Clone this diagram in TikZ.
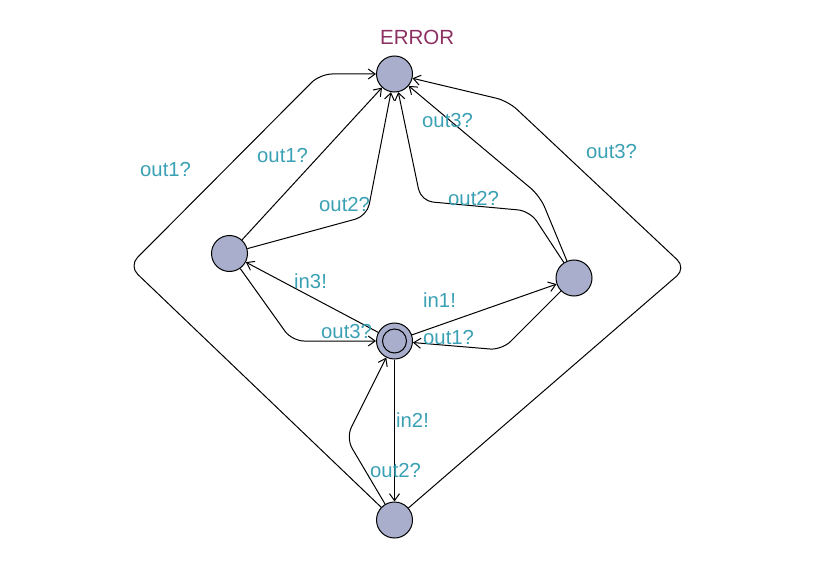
\documentclass[tikz,border=0pt]{standalone}
\usepackage{fontspec}
\setmainfont{Liberation Sans}
\usetikzlibrary{arrows.meta}
\definecolor{lbl}{RGB}{58,160,180}
\definecolor{errc}{RGB}{140,48,98}
\definecolor{locfill}{RGB}{168,174,203}
\tikzset{
  loc/.style={circle,draw=black,fill=locfill,line width=1pt,minimum size=36pt,inner sep=0pt},
  edge/.style={draw=black,line width=1pt,rounded corners=12pt,-{Straight Barb[length=7pt,width=10pt,line width=1pt]}},
  lab/.style={anchor=base west,inner sep=0pt,text=lbl,font=\fontsize{20.3pt}{21pt}\selectfont},
}
\begin{document}
\begin{tikzpicture}[x=1pt,y=-1pt]
\useasboundingbox (0,0) rectangle (814,583);
% locations
\node[loc] (err) at (394.5,74) {};
\node[loc] (lft) at (229.5,253.5) {};
\node[loc] (rgt) at (574,278) {};
\node[loc] (ini) at (394.5,341) {};
\draw[line width=1pt] (ini.center) circle (12);
\node[loc] (bot) at (394.5,520) {};
\node[anchor=base west,inner sep=0pt,text=errc,font=\fontsize{20.5pt}{21pt}\selectfont] (errname) at (380,45) {ERROR};
% edges
\draw[edge] (bot) -- (129,266) -- (320,74) -- (err);
\draw[edge] (bot) -- (686,268) -- (508,101) -- (err);
\draw[edge] (lft) -- (err);
\draw[edge] (lft) -- (367,216) -- (err);
\draw[edge] (rgt) -- (540,196) -- (err);
\draw[edge] (rgt) -- (530,211) -- (421,201) -- (err);
\draw[edge] (ini) -- (lft);
\draw[edge] (lft) -- (292,341) -- (ini);
\draw[edge] (ini) -- (rgt);
\draw[edge] (rgt) -- (502,350) -- (ini);
\draw[edge] (ini) -- (bot);
\draw[edge] (bot) -- (346,438) -- (ini);
% labels
\node[lab] (l1) at (140,176) {out1?};
\node[lab] (l2) at (257,162) {out1?};
\node[lab] (l3) at (319,211) {out2?};
\node[lab] (l4) at (422,128) {out3?};
\node[lab] (l5) at (586,159) {out3?};
\node[lab] (l6) at (448,205) {out2?};
\node[lab] (l7) at (294,288) {in3!};
\node[lab] (l8) at (321,338) {out3?};
\node[lab] (l9) at (423,307) {in1!};
\node[lab] (l10) at (423,344) {out1?};
\node[lab] (l11) at (396,427) {in2!};
\node[lab] (l12) at (370,477) {out2?};
\end{tikzpicture}
\end{document}
